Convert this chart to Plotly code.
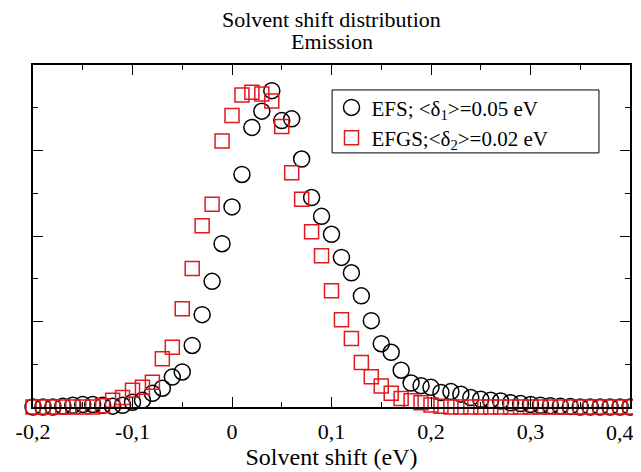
import plotly.graph_objects as go

shift_ev = [-0.20, -0.19, -0.18, -0.17, -0.16, -0.15, -0.14, -0.13, -0.12, -0.11,
            -0.10, -0.09, -0.08, -0.07, -0.06, -0.05, -0.04, -0.03, -0.02, -0.01,
            0.00, 0.01, 0.02, 0.03, 0.04, 0.05, 0.06, 0.07, 0.08, 0.09,
            0.10, 0.11, 0.12, 0.13, 0.14, 0.15, 0.16, 0.17, 0.18, 0.19,
            0.20, 0.21, 0.22, 0.23, 0.24, 0.25, 0.26, 0.27, 0.28, 0.29,
            0.30, 0.31, 0.32, 0.33, 0.34, 0.35, 0.36, 0.37, 0.38, 0.39, 0.40]

efs = [0.0, 0.0, 0.0, 0.01, 0.02, 0.03, 0.03, 0.02, 0.01, 0.02,
       0.055, 0.08, 0.16, 0.22, 0.35, 0.41, 0.72, 1.08, 1.47, 1.91,
       2.34, 2.72, 3.27, 3.46, 3.70, 3.35, 3.37, 2.90, 2.45, 2.23,
       2.02, 1.75, 1.57, 1.30, 1.01, 0.74, 0.64, 0.43, 0.28, 0.25,
       0.23, 0.17, 0.18, 0.15, 0.11, 0.09, 0.08, 0.07, 0.05, 0.04,
       0.03, 0.02, 0.015, 0.01, 0.005, 0.0, 0.0, 0.0, 0.0, 0.0, 0.0]

efgs = [0.0, 0.0, 0.0, 0.0, 0.0, 0.0, 0.0, 0.015, 0.08, 0.11,
        0.195, 0.23, 0.29, 0.565, 0.70, 1.15, 1.62, 2.12, 2.37, 3.11,
        3.41, 3.65, 3.68, 3.66, 3.58, 3.28, 2.74, 2.43, 2.05, 1.77,
        1.36, 1.02, 0.80, 0.52, 0.355, 0.245, 0.16, 0.10, 0.074, 0.05,
        0.023, 0.01, 0.0, 0.0, 0.0, 0.0, 0.0, 0.0, 0.0, 0.0,
        0.0, 0.0, 0.0, 0.0, 0.0, 0.0, 0.0, 0.0, 0.0, 0.0, 0.0]

x_tickvals = [-0.2, -0.1, 0.0, 0.1, 0.2, 0.3, 0.4]
x_ticktext = ["-0,2", "-0,1", "0", "0,1", "0,2", "0,3", "0,4"]

title_lines = ["Solvent shift distribution", "Emission"]

FONT = "Liberation Serif, Times New Roman, serif"

fig = go.Figure()
fig.add_trace(go.Scatter(
    x=shift_ev, y=efs, mode="markers",
    name="EFS; &lt;δ<sub>1</sub>&gt;=0.05 eV",
    marker=dict(symbol="circle-open", size=16, color="black", line=dict(width=1.5, color="black")),
    cliponaxis=False,
))
fig.add_trace(go.Scatter(
    x=shift_ev, y=efgs, mode="markers",
    name="EFGS;&lt;δ<sub>2</sub>&gt;=0.02 eV",
    marker=dict(symbol="square-open", size=14, color="#e0191e", line=dict(width=1.5, color="#e0191e")),
    cliponaxis=False,
))

# last tick label is drawn as an annotation, nudged left so it stays inside the page
shown_ticktext = x_ticktext[:-1] + [""]
edge_label = dict(text=x_ticktext[-1], x=x_tickvals[-1], xref="x", y=0, yref="paper",
                  xanchor="right", yanchor="middle", xshift=6, yshift=-25,
                  showarrow=False, font=dict(family=FONT, size=22))

# the page body adds an 8px offset, so the figure is sized to the visible area
fig.update_layout(
    width=633, height=464,
    margin=dict(l=25, r=11, t=57, b=65),
    paper_bgcolor="white", plot_bgcolor="white",
    font=dict(family=FONT, size=21, color="black"),
    legend=dict(x=0.50, y=0.935, xanchor="left", yanchor="top",
                bgcolor="rgba(0,0,0,0)", borderwidth=0,
                font=dict(family=FONT, size=21)),
    showlegend=True,
    shapes=[
        dict(type="rect", xref="paper", yref="paper", x0=0.501, x1=0.948, y0=0.743, y1=0.927,
             line=dict(color="black", width=1), fillcolor="white", layer="above"),
    ],
    annotations=[
        dict(text=title_lines[0], x=0.5, y=1.134, xref="paper", yref="paper",
             xanchor="center", yanchor="middle", showarrow=False, font=dict(family=FONT, size=22)),
        dict(text=title_lines[1], x=0.5, y=1.070, xref="paper", yref="paper",
             xanchor="center", yanchor="middle", showarrow=False, font=dict(family=FONT, size=22)),
        edge_label,
    ],
)
fig.update_xaxes(
    range=[-0.2, 0.4], tickvals=x_tickvals, ticktext=shown_ticktext, automargin=False,
    ticklabeloverflow="allow", ticklabelstandoff=4,
    showgrid=False, zeroline=False, showline=True, linecolor="black", linewidth=2,
    mirror="ticks", ticks="inside", ticklen=10, tickwidth=1, tickcolor="black",
    minor=dict(ticks="inside", ticklen=5, dtick=0.05, tickcolor="black"),
    title=dict(text="Solvent shift (eV)", font=dict(family=FONT, size=24), standoff=4),
    tickfont=dict(family=FONT, size=22),
)
fig.update_yaxes(
    range=[0, 4], dtick=1, showticklabels=False, automargin=False,
    showgrid=False, zeroline=False, showline=True, linecolor="black", linewidth=2,
    mirror="ticks", ticks="inside", ticklen=10, tickwidth=1, tickcolor="black",
    minor=dict(ticks="inside", ticklen=5, dtick=0.5, tickcolor="black"),
)

fig.write_html("out.html")
